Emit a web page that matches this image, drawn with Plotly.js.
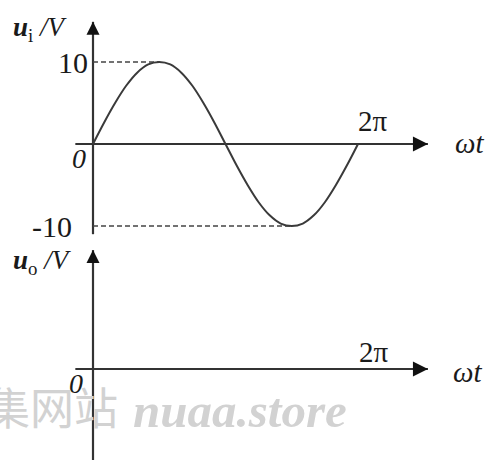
<!DOCTYPE html>
<html>
<head>
<meta charset="utf-8">
<script src="https://cdn.plot.ly/plotly-3.0.1.min.js"></script>
<style>
  html, body { margin: 0; padding: 0; background: #fff; }
  #chart { width: 493px; height: 460px; }
</style>
</head>
<body>
<div id="chart"></div>
<script>
// Input voltage u_i over one period, sampled every 15° of ωt
const phaseDeg = [0, 15, 30, 45, 60, 75, 90, 105, 120, 135, 150, 165, 180,
                  195, 210, 225, 240, 255, 270, 285, 300, 315, 330, 345, 360];
const uiVolts  = [0, 2.6, 5.0, 7.1, 8.7, 9.7, 10, 9.7, 8.7, 7.1, 5.0, 2.6, 0,
                  -2.6, -5.0, -7.1, -8.7, -9.7, -10, -9.7, -8.7, -7.1, -5.0, -2.6, 0];

// Peak and trough guides with their value labels
const peakPhaseDeg = [90, 270];
const peakVolts    = [10, -10];
const peakLabels   = ['10', '-10'];

// End of the period on the ωt axes
const periodDeg   = 360;
const periodLabel = '2π';

// ---- geometry -------------------------------------------------------
const W = 493, H = 460;
const originPx = 93;            // pixel column of ωt = 0
const degPx = 265 / 360;        // pixels per degree of ωt
const voltPx = 8.2;             // pixels per volt
const topZeroPx = 144;          // pixel row of u_i = 0
const bottomZeroPx = 369;       // pixel row of u_o = 0

const xRange    = [-originPx / degPx, (W - originPx) / degPx];
const yTopRange = [-(H - topZeroPx) / voltPx, topZeroPx / voltPx];
const yBotRange = [-(H - bottomZeroPx) / voltPx, bottomZeroPx / voltPx];

// Axis extents (data units)
const axisStartDeg = -24, axisTipDeg = 455;
const topAxisV = [-11, 14.9];
const bottomAxisV = [-12, 14.5];

const INK = '#333';
const SERIF = '"Liberation Serif", "Times New Roman", serif';

const px = (x, y) => ({ x: x / W, y: 1 - y / H });

function axisLine(xs, ys, yaxis) {
  return { x: xs, y: ys, yaxis: yaxis, mode: 'lines', hoverinfo: 'skip',
           line: { color: INK, width: 2.2 }, showlegend: false };
}
function arrowHead(x, y, yaxis, symbol, size) {
  return { x: [x], y: [y], yaxis: yaxis, mode: 'markers', hoverinfo: 'skip',
           marker: { symbol: symbol, size: size, color: '#111', line: { width: 0 } },
           showlegend: false };
}

const traces = [
  // u_i axes
  axisLine([axisStartDeg, axisTipDeg], [0, 0], 'y'),
  axisLine([0, 0], topAxisV, 'y'),
  arrowHead(axisTipDeg, 0, 'y', 'arrow-right', 15),
  arrowHead(0, topAxisV[1], 'y', 'arrow-up', 13),
  // u_o axes
  axisLine([axisStartDeg, axisTipDeg], [0, 0], 'y2'),
  axisLine([0, 0], bottomAxisV, 'y2'),
  arrowHead(axisTipDeg, 0, 'y2', 'arrow-right', 15),
  arrowHead(0, bottomAxisV[1], 'y2', 'arrow-up', 13),
  // dashed guides to the peak and trough
  ...peakVolts.map((v, i) => ({
    x: [0, peakPhaseDeg[i]], y: [v, v], yaxis: 'y', mode: 'lines', hoverinfo: 'skip',
    line: { color: '#444', width: 1.4, dash: '5px,3px' }, showlegend: false
  })),
  // the sine wave u_i
  { x: phaseDeg, y: uiVolts, yaxis: 'y', mode: 'lines', hoverinfo: 'skip',
    line: { color: '#3a3a3a', width: 2, shape: 'spline', smoothing: 1 }, showlegend: false }
];

const textFont = (size, extra) => Object.assign({ family: SERIF, size: size, color: '#1a1a1a' }, extra || {});

const annotations = [
  // value labels for peak and trough
  { x: 0, xref: 'x', y: peakVolts[0], yref: 'y', text: peakLabels[0], showarrow: false,
    xanchor: 'right', yanchor: 'middle', xshift: -3, font: textFont(30) },
  { x: 0, xref: 'x', y: peakVolts[1], yref: 'y', text: peakLabels[1], showarrow: false,
    xanchor: 'right', yanchor: 'middle', xshift: -19, font: textFont(30) },
  // period labels
  { x: periodDeg, xref: 'x', y: px(0, 121).y, yref: 'paper',
    text: periodLabel, showarrow: false, xanchor: 'center', yanchor: 'middle', xshift: 15,
    font: textFont(29) },
  { x: periodDeg, xref: 'x', y: px(0, 352).y, yref: 'paper',
    text: periodLabel, showarrow: false, xanchor: 'center', yanchor: 'middle', xshift: 16,
    font: textFont(29) },
  // origins
  Object.assign(px(79, 158), { xref: 'paper', yref: 'paper', text: '<i>0</i>', showarrow: false,
    xanchor: 'center', yanchor: 'middle', font: textFont(28) }),
  Object.assign(px(76, 383), { xref: 'paper', yref: 'paper', text: '<i>0</i>', showarrow: false,
    xanchor: 'center', yanchor: 'middle', font: textFont(28) }),
  // ωt axis titles
  Object.assign(px(469, 143), { xref: 'paper', yref: 'paper', text: '<i>ωt</i>', showarrow: false,
    xanchor: 'center', yanchor: 'middle', font: textFont(29) }),
  Object.assign(px(467, 372), { xref: 'paper', yref: 'paper', text: '<i>ωt</i>', showarrow: false,
    xanchor: 'center', yanchor: 'middle', font: textFont(29) }),
  // voltage axis titles
  Object.assign(px(11, 29), { xref: 'paper', yref: 'paper',
    text: '<b><i>u</i></b><sub>i</sub> <i>/V</i>', showarrow: false,
    xanchor: 'left', yanchor: 'middle', font: textFont(27) }),
  Object.assign(px(11, 262), { xref: 'paper', yref: 'paper',
    text: '<b><i>u</i></b><sub>o</sub> <i>/V</i>', showarrow: false,
    xanchor: 'left', yanchor: 'middle', font: textFont(27) }),
  // site mark
  Object.assign(px(-16, 406), { xref: 'paper', yref: 'paper', text: '集网站', showarrow: false,
    xanchor: 'left', yanchor: 'middle',
    font: { family: '"Noto Sans CJK SC", sans-serif', size: 44, color: '#d2d2d2' } }),
  Object.assign(px(131, 410), { xref: 'paper', yref: 'paper', text: '<b><i>nuaa.store</i></b>', showarrow: false,
    xanchor: 'left', yanchor: 'middle',
    font: { family: SERIF, size: 49, color: '#d2d2d2' } })
];

const layout = {
  width: W, height: H,
  margin: { l: 0, r: 0, t: 0, b: 0 },
  paper_bgcolor: '#fff', plot_bgcolor: '#fff',
  showlegend: false,
  xaxis: { range: xRange, visible: false, fixedrange: true },
  yaxis: { range: yTopRange, visible: false, fixedrange: true, domain: [0, 1] },
  yaxis2: { range: yBotRange, visible: false, fixedrange: true, overlaying: 'y' },
  annotations: annotations
};

Plotly.newPlot('chart', traces, layout, { staticPlot: true, displayModeBar: false });
</script>
</body>
</html>
